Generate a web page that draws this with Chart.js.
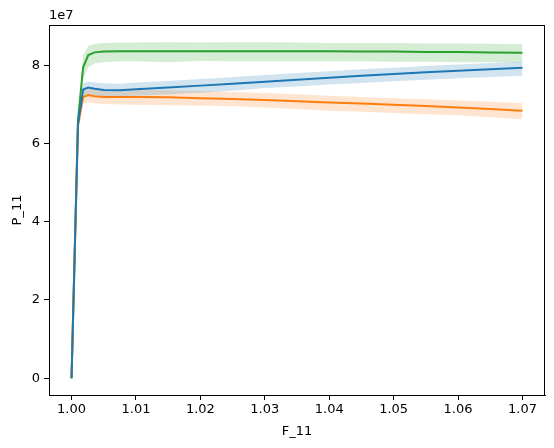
<!DOCTYPE html>
<html>
<head>
<meta charset="utf-8">
<script src="https://cdn.jsdelivr.net/npm/chart.js@4"></script>
<style>
  html, body { margin: 0; padding: 0; background: #fff; }
  #wrap { width: 554px; height: 448px; }
</style>
</head>
<body>
<div id="wrap"><canvas id="chart" width="554" height="448"></canvas></div>
<script>
// F_11 values where the curves were read
const fValues = [1.0, 1.001, 1.0018, 1.0026, 1.0036, 1.005, 1.0075, 1.01, 1.015, 1.02,
                 1.025, 1.03, 1.035, 1.04, 1.045, 1.05, 1.055, 1.06, 1.065, 1.07];

// P_11 in units of 1e7
const blueMean = [0, 6.5, 7.38, 7.43, 7.40, 7.37, 7.36, 7.39, 7.43, 7.48, 7.53, 7.58, 7.63, 7.68, 7.73, 7.78, 7.82, 7.86, 7.90, 7.94];
const blueLow  = [0, 6.35, 7.22, 7.27, 7.24, 7.21, 7.20, 7.22, 7.25, 7.30, 7.35, 7.42, 7.46, 7.51, 7.55, 7.59, 7.63, 7.67, 7.70, 7.73];
const blueHigh = [0, 6.65, 7.54, 7.58, 7.56, 7.54, 7.53, 7.56, 7.60, 7.65, 7.70, 7.75, 7.80, 7.85, 7.90, 7.94, 7.98, 8.02, 8.06, 8.09];

const orangeMean = [0, 6.45, 7.19, 7.24, 7.21, 7.19, 7.19, 7.19, 7.18, 7.16, 7.14, 7.11, 7.08, 7.05, 7.02, 6.99, 6.96, 6.92, 6.88, 6.84];
const orangeLow  = [0, 6.3, 7.02, 7.05, 7.03, 7.01, 7.00, 6.99, 6.98, 6.97, 6.95, 6.92, 6.88, 6.84, 6.81, 6.78, 6.75, 6.72, 6.67, 6.62];
const orangeHigh = [0, 6.6, 7.35, 7.40, 7.38, 7.37, 7.37, 7.37, 7.36, 7.34, 7.32, 7.29, 7.26, 7.22, 7.19, 7.16, 7.13, 7.10, 7.07, 7.03];

const greenMean = [0, 6.6, 7.95, 8.26, 8.33, 8.35, 8.36, 8.36, 8.36, 8.36, 8.36, 8.36, 8.36, 8.36, 8.35, 8.35, 8.34, 8.34, 8.33, 8.32];
const greenLow  = [0, 6.45, 7.65, 7.95, 8.05, 8.08, 8.10, 8.10, 8.08, 8.11, 8.10, 8.10, 8.10, 8.10, 8.10, 8.09, 8.09, 8.08, 8.08, 8.07];
const greenHigh = [0, 6.75, 8.25, 8.50, 8.55, 8.57, 8.58, 8.58, 8.59, 8.58, 8.59, 8.59, 8.58, 8.57, 8.57, 8.57, 8.56, 8.56, 8.55, 8.54];

const xTicks = [1.00, 1.01, 1.02, 1.03, 1.04, 1.05, 1.06, 1.07];
const yTicks = [0, 2, 4, 6, 8];

const toPoints = ys => ys.map((y, i) => ({ x: fValues[i], y }));

// one band (lower, upper filled to lower) plus the mean line
function series(mean, low, high, color, fillColor) {
  return [
    { data: toPoints(low), borderWidth: 0, pointRadius: 0, fill: false },
    { data: toPoints(high), borderWidth: 0, pointRadius: 0, fill: '-1', backgroundColor: fillColor },
    { data: toPoints(mean), borderColor: color, borderWidth: 2, pointRadius: 0, fill: false }
  ];
}

const datasets = [
  ...series(blueMean, blueLow, blueHigh, '#1f77b4', 'rgba(31,119,180,0.2)'),
  ...series(orangeMean, orangeLow, orangeHigh, '#ff7f0e', 'rgba(255,127,14,0.2)'),
  ...series(greenMean, greenLow, greenHigh, '#2ca02c', 'rgba(44,160,44,0.2)')
];

// axes frame and the matplotlib style offset label
const frame = {
  id: 'frame',
  afterDraw(c) {
    const { ctx, chartArea: a } = c;
    ctx.save();
    ctx.strokeStyle = '#000';
    ctx.lineWidth = 1;
    ctx.strokeRect(a.left + 0.5, a.top + 0.5, a.right - a.left - 1, a.bottom - a.top);
    ctx.fillStyle = '#000';
    ctx.font = '13px "DejaVu Sans"';
    ctx.textBaseline = 'bottom';
    ctx.fillText('1e7', a.left, a.top - 3);
    ctx.restore();
  }
};

const font = { family: 'DejaVu Sans', size: 13 };

new Chart(document.getElementById('chart'), {
  type: 'scatter',
  data: { datasets },
  plugins: [frame],
  options: {
    responsive: false,
    animation: false,
    showLine: true,
    layout: { padding: { left: 10, right: 9, top: 25, bottom: 5 } },
    plugins: { legend: { display: false }, tooltip: { enabled: false } },
    elements: { line: { tension: 0 } },
    scales: {
      x: {
        type: 'linear',
        min: 0.9965,
        max: 1.0735,
        afterBuildTicks: s => { s.ticks = xTicks.map(v => ({ value: v })); },
        afterFit: s => { s.height = 48; },
        ticks: { color: '#000', font, padding: 2, maxRotation: 0, callback: v => v.toFixed(2) },
        grid: { drawOnChartArea: false, drawTicks: true, tickLength: 5, color: '#000' },
        border: { display: true, color: '#000' },
        title: { display: true, text: 'F_11', color: '#000', font, padding: { top: 2 } }
      },
      y: {
        type: 'linear',
        min: -0.43,
        max: 9.03,
        afterBuildTicks: s => { s.ticks = yTicks.map(v => ({ value: v })); },
        afterFit: s => { s.width = 39; },
        ticks: { color: '#000', font, padding: 4, callback: v => String(v) },
        grid: { drawOnChartArea: false, drawTicks: true, tickLength: 5, color: '#000' },
        border: { display: true, color: '#000' },
        title: { display: true, text: 'P_11', color: '#000', font, padding: { top: 0, bottom: 0 } }
      }
    }
  }
});
</script>
</body>
</html>
